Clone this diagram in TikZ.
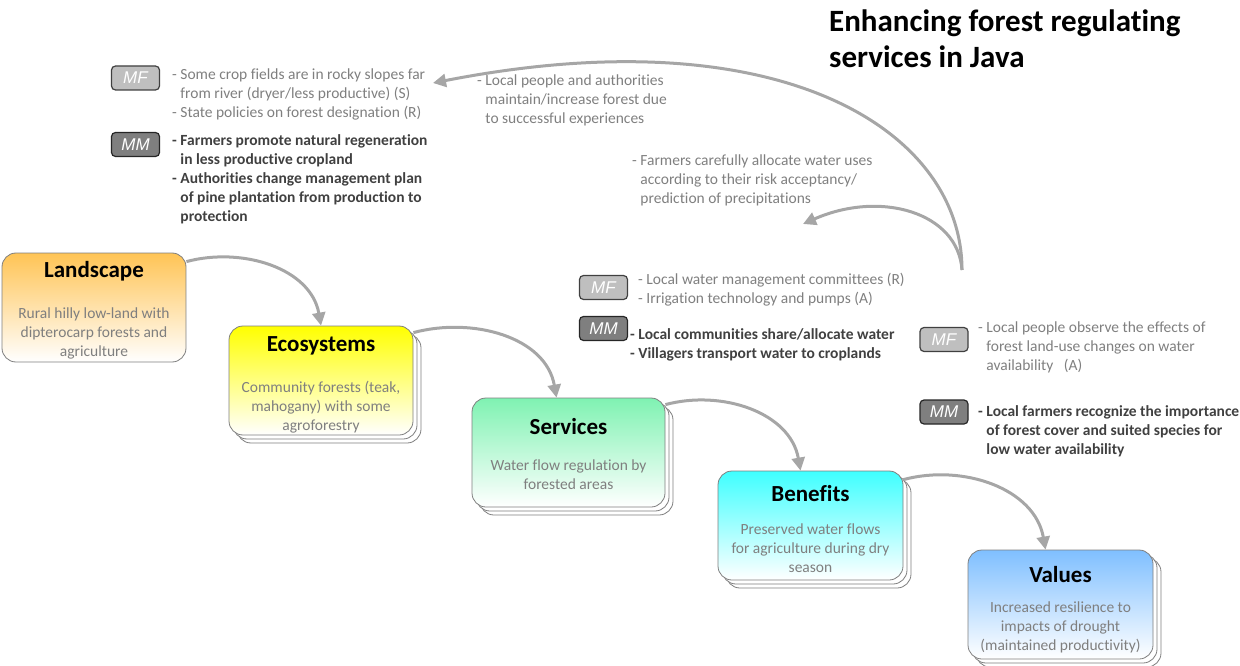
\documentclass[tikz,border=0pt]{standalone}
\usepackage{fontspec}
\setmainfont[Ligatures=NoCommon]{Carlito}
\newfontfamily\badgefont{Liberation Sans}
\usetikzlibrary{arrows.meta,shadows}
\definecolor{textgray}{HTML}{7F7F7F}
\definecolor{darktext}{HTML}{404040}
\definecolor{boxline}{HTML}{7F7F7F}
\definecolor{arrowgray}{HTML}{A6A6A6}
\definecolor{cland}{HTML}{FFC455}
\definecolor{ceco}{HTML}{FFFF00}
\definecolor{cserv}{HTML}{7FF2B2}
\definecolor{cben}{HTML}{3FFFFF}
\definecolor{cval}{HTML}{7FBFFF}
\definecolor{mffill}{HTML}{BFBFBF}
\definecolor{mmfill}{HTML}{7F7F7F}
\begin{document}
\begin{tikzpicture}[x=1pt,y=-1pt,
  box/.style={draw=boxline,line width=0.8pt,rounded corners=14pt,minimum height=109pt,inner sep=0pt,bottom color=white},
  stacked/.style={double copy shadow={shadow xshift=4pt,shadow yshift=-4pt,fill=white,draw=boxline,line width=0.8pt}},
  boxtitle/.style={font=\fontsize{23}{26}\selectfont\bfseries,text=black,inner sep=0pt},
  boxbody/.style={font=\fontsize{15.5}{19}\selectfont,text=textgray,align=center,inner sep=0pt},
  note/.style={font=\fontsize{15.5}{19}\selectfont,text=textgray,align=left,inner sep=0pt,anchor=north west},
  notebold/.style={font=\fontsize{15.5}{19}\selectfont\bfseries,text=darktext,align=left,inner sep=0pt,anchor=north west},
  badge/.style={rounded corners=4pt,line width=1.2pt,minimum width=48pt,minimum height=24pt,inner sep=0pt,font=\badgefont\itshape\fontsize{17}{17}\selectfont,text=white},
  mf/.style={badge,fill=mffill,draw=darktext},
  mm/.style={badge,fill=mmfill,draw=black!85},
  arr/.style={draw=arrowgray,line width=3pt,-{Triangle[length=13pt,width=13pt]}}
]
\useasboundingbox (0,0) rectangle (1240,666);

% title
\node[anchor=north west,inner sep=0pt,align=left,font=\fontsize{31}{36}\selectfont\bfseries] (title) at (829,10) {Enhancing forest regulating\\services in Java};

% boxes
\node[box,top color=cland,minimum width=184pt] (land) at (94,307.5) {};
\node[box,stacked,top color=ceco,minimum width=184pt] (eco) at (321,380.5) {};
\node[box,stacked,top color=cserv,minimum width=193pt] (serv) at (568.5,452.5) {};
\node[box,stacked,top color=cben,minimum width=185pt] (ben) at (810.5,525.5) {};
\node[box,stacked,top color=cval,minimum width=185pt] (val) at (1060.5,604.5) {};

\node[boxtitle] (landT) at (94,271) {Landscape};
\node[boxbody] (landB) at (94,333) {Rural hilly low-land with\\dipterocarp forests and\\agriculture};
\node[boxtitle] (ecoT) at (321,346) {Ecosystems};
\node[boxbody] (ecoB) at (321,407) {Community forests (teak,\\mahogany) with some\\agroforestry};
\node[boxtitle] (servT) at (568.5,427) {Services};
\node[boxbody] (servB) at (568.5,475) {Water flow regulation by\\forested areas};
\node[boxtitle] (benT) at (810.5,494) {Benefits};
\node[boxbody] (benB) at (810.5,548) {Preserved water flows\\for agriculture during dry\\season};
\node[boxtitle] (valT) at (1060.5,575) {Values};
\node[boxbody] (valB) at (1060.5,627) {Increased resilience to\\impacts of drought\\(maintained productivity)};

% arrows between boxes
\draw[arr] ([yshift=-9pt]land.north east) to[out=15,in=100] (eco.north);
\draw[arr] ([yshift=-7pt]eco.north east) to[out=15,in=100] ([xshift=-12pt]serv.north);
\draw[arr] ([yshift=-7pt]serv.north east) to[out=15,in=100] ([xshift=-10pt]ben.north);
\draw[arr] ([yshift=-9pt]ben.north east) to[out=15,in=100] ([xshift=-15pt]val.north);

% badges and notes
\node[mf] (mf1) at (135.5,78) {MF};
\node[note] (mf1t) at (172,68.5) {- Some crop fields are in rocky slopes far\\\phantom{- }from river (dryer/less productive) (S)\\- State policies on forest designation (R)};
\node[mm] (mm1) at (135.5,144.5) {MM};
\node[notebold] (mm1t) at (172,134) {- Farmers promote natural regeneration\\\phantom{- }in less productive cropland\\- Authorities change management plan\\\phantom{- }of pine plantation from production to\\\phantom{- }protection};

\node[note] (lp) at (477,74.5) {- Local people and authorities\\\phantom{- }maintain/increase forest due\\\phantom{- }to successful experiences};
\node[note] (fc) at (632,155) {- Farmers carefully allocate water uses\\\phantom{- }according to their risk acceptancy/\\\phantom{- }prediction of precipitations};

\node[mf] (mf2) at (603.5,287.5) {MF};
\node[note] (mf2t) at (638,273) {- Local water management committees (R)\\- Irrigation technology and pumps (A)};
\node[mm] (mm2) at (603.5,328.5) {MM};
\node[notebold] (mm2t) at (630,328) {- Local communities share/allocate water\\- Villagers transport water to croplands};

\node[mf] (mf3) at (944,339.5) {MF};
\node[note] (mf3t) at (978,322) {- Local people observe the effects of\\\phantom{- }forest land-use changes on water\\\phantom{- }availability~~ (A)};
\node[mm] (mm3) at (944,412) {MM};
\node[notebold] (mm3t) at (978,405) {- Local farmers recognize the importance\\\phantom{- }of forest cover and suited species for\\\phantom{- }low water availability};

% feedback arrows
\coordinate (fb) at (962,270);
\coordinate (fbtip) at (433,83);
\coordinate (fbtip2) at (803,224);
\draw[arr] (fb) .. controls (962,130) and (780,15) .. (fbtip);
\draw[arr] (fb) .. controls (958,212) and (880,190) .. (fbtip2);
\end{tikzpicture}
\end{document}
